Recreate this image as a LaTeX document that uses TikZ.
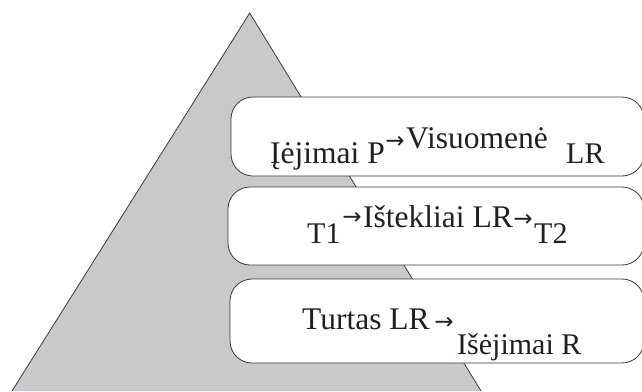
\documentclass[tikz,border=0pt]{standalone}
\usepackage{fontspec}
\setmainfont{Liberation Serif}
\newfontfamily\arrowfont{DejaVu Sans}
\definecolor{trifill}{HTML}{C8C9CB}
\definecolor{ink}{HTML}{231F20}
\definecolor{edge}{HTML}{3A3A3A}
\begin{document}
\begin{tikzpicture}[x=1pt,y=-1pt,
  lvl/.style={draw=edge,line width=0.8pt,fill=white,rounded corners=22pt},
  main/.style={anchor=base west,inner sep=0pt,text=ink,font=\fontsize{31.5}{36}\selectfont},
  sub/.style={anchor=base west,inner sep=0pt,text=ink,font=\fontsize{30}{34}\selectfont},
  arr/.style={anchor=center,inner sep=0pt,text=ink,font=\arrowfont\fontsize{23}{23}\selectfont}]
\useasboundingbox (0,0) rectangle (642,391);
\begin{scope}
\clip (0,0) rectangle (642,391);
\fill[trifill] (249.7,13) -- (12,391) -- (481,391) -- cycle;
\draw[edge,line width=0.8pt] (12,391) -- (249.7,13) -- (481,391);
\draw[lvl] (231,97) rectangle (644,176);
\draw[lvl] (228,187) rectangle (644,265);
\draw[lvl] (230,279) rectangle (644,363);
\end{scope}
% level 1
\node[main] (a1) at (270,163) {Įėjimai P};
\node[arr]  (aa) at (395,142) {→};
\node[main] (a2) at (406,148) {Visuomenė};
\node[sub]  (a3) at (566,163) {LR};
% level 2
\node[sub]  (b1) at (307,243) {T1};
\node[arr]  (ba) at (352,218) {→};
\node[main] (b2) at (363,227) {Ištekliai LR};
\node[arr]  (bb) at (523,220) {→};
\node[sub]  (b3) at (534,243) {T2};
% level 3
\node[main] (c1) at (302,329) {Turtas LR};
\node[arr]  (ca) at (444,323) {→};
\node[sub]  (c2) at (457,354) {Išėjimai R};
\end{tikzpicture}
\end{document}
